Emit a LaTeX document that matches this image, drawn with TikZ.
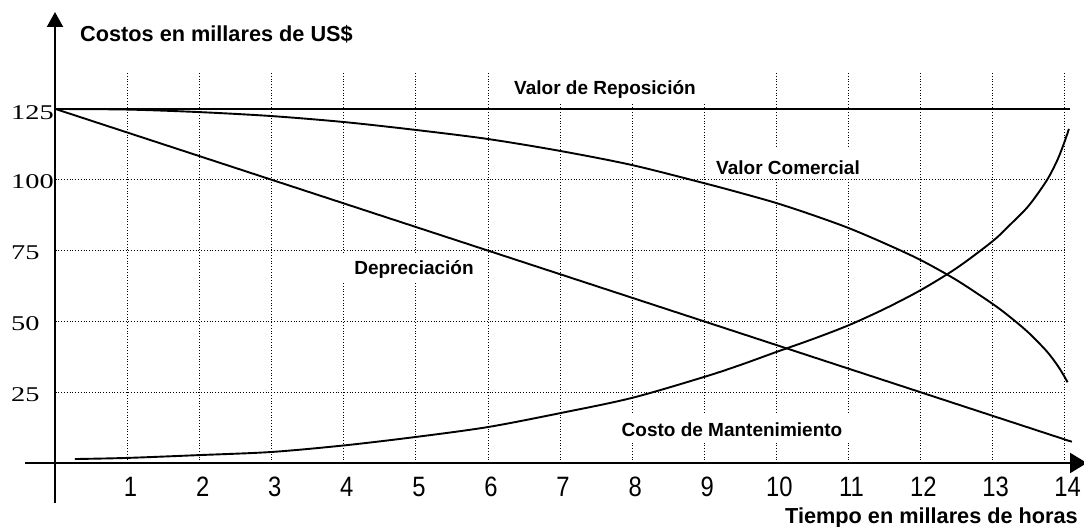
\documentclass[tikz,border=0pt]{standalone}
\usepackage{fontspec}
\setmainfont{Liberation Sans}
\newfontfamily\tickfont[FakeStretch=0.85]{Liberation Sans}
\newfontfamily\yfont[FakeStretch=1.35]{Liberation Serif}
\usetikzlibrary{arrows.meta}
\tikzset{
  gridline/.style={line width=0.9pt, dash pattern=on 0.9pt off 1.9pt},
  curve/.style={line width=1.9pt},
  axisline/.style={line width=2.2pt},
  lbl/.style={fill=white, anchor=base, inner xsep=8pt, inner ysep=4pt,
    font=\fontsize{19}{19}\selectfont\bfseries},
  ttl/.style={inner sep=0pt, font=\fontsize{21.7}{22}\selectfont\bfseries},
  xtick/.style={inner sep=0pt, font=\tickfont\fontsize{28}{28}\selectfont},
  ytick/.style={inner sep=0pt, anchor=west, font=\yfont\fontsize{21}{21}\selectfont}
}
\begin{document}
\begin{tikzpicture}[x=1pt,y=-1pt]
\useasboundingbox[fill=white] (0,0) rectangle (1084,527);

% grid
\begin{scope}[shift={(55.5,463)}, x=72.08pt, y=2.832pt]
  \foreach \t in {1,...,14} \draw[gridline] (\t,0) -- (\t,138.2);
  \foreach \v in {25,50,75,100} \draw[gridline] (0,\v) -- (14,\v);
\end{scope}

% curve labels
\node[lbl, inner xsep=12pt, text height=17pt, text depth=4pt, inner ysep=5pt] (vr) at (605,95) {Valor de Reposición};
\node[lbl, text height=23pt, text depth=0pt] (vc) at (788,174) {Valor Comercial};
\node[lbl, inner xsep=13pt, text height=16pt, text depth=4pt, inner ysep=5pt] (dep) at (414,274) {Depreciación};
\node[lbl, text height=19pt, text depth=2pt] (cm) at (732,436) {Costo de Mantenimiento};

% curves
\begin{scope}[shift={(55.5,463)}, x=72.08pt, y=2.832pt]
  \coordinate (o125) at (0,125);
  \coordinate (vrend) at (14.08,125);
  \coordinate (depend) at (14.1,7.5);
  \draw[curve] (o125) -- (vrend);
  \draw[curve] (o125) -- (depend);
  \draw[curve] plot[smooth, tension=0.5] coordinates {
    (0,125) (1,124.8) (2,123.9) (3,122.5) (4,120.4) (5,117.6) (6,114.4)
    (7,110.2) (8,105.2) (9,98.8) (9.5,95.4) (10,91.8) (10.5,87.6) (11,83)
    (11.5,77.6) (12,71.7) (12.5,64.6) (13,56.2) (13.25,51.4) (13.5,46)
    (13.75,39.5) (13.9,34.5) (14,30.4) (14.04,28.5)};
  \draw[curve] plot[smooth, tension=0.5] coordinates {
    (0.27,1.4) (1,1.8) (2,2.8) (3,3.9) (4,6.2) (5,9.2) (6,12.7) (7,17.6)
    (8,23) (9,30.4) (9.5,34.6) (10,39.2) (10.5,43.7) (11,48.6) (11.5,54.4)
    (12,61) (12.5,68.8) (13,78.3) (13.25,84.3) (13.5,90.8) (13.75,99.7)
    (13.9,107) (14,113.5) (14.06,118)};
\end{scope}

% axes
\coordinate (yb) at (55,503);
\coordinate (yt) at (55,12);
\coordinate (xl) at (25,463);
\coordinate (xr) at (1087,463);
\draw[axisline, -{Triangle[length=15pt,width=16pt]}] (yb) -- (yt);
\draw[axisline, -{Triangle[length=17pt,width=20pt]}] (xl) -- (xr);

% axis titles
\node[ttl, anchor=base west] (ytitle) at (80,42) {Costos en millares de US\$};
\node[ttl, anchor=base east] (xtitle) at (1078,523) {Tiempo en millares de horas};

% tick labels
\foreach \i in {1,...,14}
  \node[xtick] (tx\i) at ({55.5+72.08*\i+3},487) {\i};
\node[ytick] (y125) at (11,113) {125};
\node[ytick] (y100) at (11,182) {100};
\node[ytick] (y75) at (11,253) {75};
\node[ytick] (y50) at (11,324) {50};
\node[ytick] (y25) at (11,394.5) {25};
\end{tikzpicture}
\end{document}
